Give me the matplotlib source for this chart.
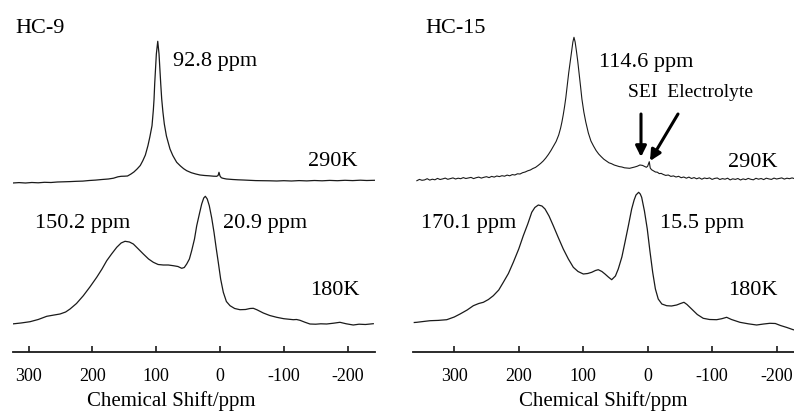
import numpy as np
import matplotlib.pyplot as plt

plt.rcParams['font.family'] = ['Liberation Serif', 'DejaVu Serif']
plt.rcParams['axes.unicode_minus'] = False

#HC-9 at 290K (chemical shift in ppm, intensity in arbitrary units)
hc9_290_ppm = [325, 315, 305, 295, 285, 275, 265, 255, 245, 235, 225, 215, 205, 195, 185, 175, 167, 160, 155,
               150, 145, 140, 135, 130, 125, 121, 117, 113, 110, 106.6, 104.5, 103.4, 102.4, 99.8, 97.6, 95.6,
               92.9, 91.4, 89.5, 87.3, 84, 81, 78.4, 74, 70, 67.9, 62, 57, 52.2, 45, 38, 31.3, 24, 17, 10, 5.2,
               3, 1.6, 0, -2, -4.7, -10, -20, -28, -36, -46, -56, -66, -78, -89, -100, -112, -124, -136, -148,
               -160, -172, -184, -196, -208, -220, -230, -242]
hc9_290_int = [-1.0, -0.6, -1.0, -0.5, -0.8, -0.3, -0.5, 0.0, 0.2, 0.4, 0.7, 0.9, 1.5, 1.9, 2.5, 3.0, 3.8, 5.2, 5.7,
               5.8, 6.0, 7.8, 10, 13, 16.5, 21.3, 27, 36.3, 45, 56.3, 72, 83, 98, 128, 140.7, 128,
               98, 83, 70, 58, 46, 39, 33, 26.5, 22, 19.7, 16, 13.3, 11.3, 9.3, 8, 7, 6.5, 6.2, 5.8, 5.7,
               6.5, 9.7, 6, 4.3, 3.7, 3, 2.5, 2.2, 2.0, 1.7, 1.4, 1.3, 1.2, 1.0, 1.3, 1.0, 1.4, 1.1, 1.5,
               1.2, 1.6, 1.3, 1.7, 1.4, 1.8, 1.5, 1.7]

#HC-9 at 180K
hc9_180_ppm = [326.5, 312, 297.8, 285, 271.6, 260, 250.8, 242, 235.1, 225, 214.3, 204, 193.3, 185, 177.6, 170,
               161.9, 155, 148.9, 142, 135.9, 128, 120.2, 112, 104.5, 97, 88.9, 81, 73.2, 66, 60, 56, 52.2, 48,
               44.4, 40, 36.5, 32, 28.7, 25.5, 23, 20, 16.8, 13, 9.4, 6, 2.7, -1, -5.2, -10, -15.7, -23, -31.3,
               -40, -47, -52.2, -58, -67.9, -78, -88.9, -100, -114.9, -120, -125.4, -133, -141, -150, -158,
               -167.2, -178, -188, -198, -208.9, -218, -228, -240.3]
hc9_180_int = [1, 2, 3.3, 5.5, 8.7, 10, 11, 13, 16, 21.5, 29.3, 38, 47.7, 56, 64.3, 71,
               77.7, 82, 83.7, 83, 81, 76, 71, 66, 62.7, 60.5, 60, 60, 59.3, 58.5, 56.7, 57.5, 61, 66,
               74.3, 86, 99.3, 112, 121, 127, 128.7, 126, 119.3, 107, 92.7, 77, 62.7, 46, 32.7, 23.5, 19.3, 16.5, 15.3,
               15.5, 16.5, 16.7, 15.2, 12, 9.5, 7.7, 6.3, 5.3, 5.5, 4.7, 2.8, 1, 0.8, 1.2,
               1, 1.8, 2.7, 1.2, 0, 0.8, 0.5, 1.3]

#HC-15 at 290K (noisy trace)
hc15_290_ppm = [358, 354, 350, 346, 342, 338, 334, 330, 326, 322, 318, 314, 310, 306, 302, 298, 294, 290, 286,
                282, 278, 274, 270, 266, 262, 258, 254, 250, 246, 242, 238, 234, 230, 226, 222, 218, 214, 210,
                206, 202, 198, 194, 190, 186, 182, 178, 174, 170, 166, 162, 158, 154, 150, 146, 142, 138, 135,
                133, 131, 129, 127, 125, 122.5, 120, 118, 116, 114.3, 112.5, 110.5, 108.5, 106, 104, 102, 99,
                96, 92, 88, 84, 80, 76, 72, 68, 64, 60, 56, 52, 48, 44, 40, 36, 32, 28, 24, 20, 16, 12, 8, 5,
                2, 0, -2.5, -4, -6, -9, -12, -15, -18, -21, -24, -28, -32, -36, -40, -44, -48, -52, -56, -60,
                -64, -68, -72, -76, -80, -84, -88, -92, -96, -100, -104, -108, -112, -116, -120, -124, -128,
                -132, -136, -140, -144, -148, -152, -156, -160, -164, -168, -172, -176, -180, -184, -188, -192,
                -196, -200, -204, -208, -212, -216, -220, -224, -227]
hc15_290_int = [-1.7, -0.4, -1.3, -0.9, 0.3, -1.1, -0.2, -0.8, 0.6, -0.5, 0.1, 0.9, -0.3, 0.4, 1.1, 0.0, 0.8, 0.3, 1.4,
                0.5, 1.0, 1.6, 0.4, 1.3, 1.9, 0.9, 1.7, 2.3, 1.4, 2.6, 1.9, 3.0, 2.4, 3.3, 2.8, 3.9, 3.2, 4.4,
                4.0, 5.2, 5.0, 6.3, 7.0, 8.2, 9.0, 10.5, 11.6, 13.5, 15.6, 18.0, 21, 24.5, 28.5, 33, 37.5, 44, 51,
                57, 64, 72, 81, 92, 106, 118, 128, 137, 141.7, 137, 128, 118, 104, 92, 80, 67,
                57, 46, 38, 33, 28.5, 25, 22.3, 19.8, 18.0, 16.2, 15.3, 14.0, 13.2, 12.4, 12.0, 11.2, 11.0, 10.7,
                11.3, 12.0, 12.8, 14.0, 13.6, 12.6,
                11.7, 12.8, 17.3, 11, 9.3, 8.2, 7.0, 6.8, 5.4, 5.6, 4.6, 3.6, 4.0, 2.6, 3.1, 2.0, 2.7, 1.3, 2.0, 0.8,
                1.9, 0.5, 1.4, 0.2, 1.2, -0.2, 1.0, 0.4, 1.1, -0.4, 0.6, 1.0, -0.5, 0.4, -0.2, 0.8, -0.9,
                0.2, -0.4, 0.5, -1.0, 0.1, -0.6, 0.6, -0.3, -0.8, 0.7, -0.2, 0.5, -0.6, 0.8, 0.1, -0.4,
                0.9, 0.0, 0.6, 1.1, -0.1, 0.8, 0.3, 1.1, 0.5]

#HC-15 at 180K
hc15_180_ppm = [362, 358.1, 348, 337.5, 325, 311.6, 300, 291, 280, 270.4, 262, 254.9, 247, 239.4, 231, 223.9, 216,
                208.4, 200, 192.9, 186, 179.8, 175, 169.6, 164, 159.2, 153, 146.4, 139, 130.9, 123, 115.3, 108,
                99.8, 93, 86.8, 81, 76.6, 71, 66.2, 61, 55.8, 50, 45.6, 40, 35.2, 30, 24.8, 21, 18.1, 14, 11.5,
                9.3, 5, 0.6, -3.5, -7.8, -12, -16.4, -22, -29.5, -37, -45, -51, -56.3, -61, -68.2, -77, -86.2,
                -96, -107, -115, -122.5, -130, -143.1, -156, -169, -180, -189.6, -198, -206, -216, -225.7, -228]
hc15_180_int = [2.5, 2.7, 3.5, 4.3, 4.6, 5.3, 8, 11, 15, 19.3, 21.5, 22.7, 25.5, 29.3, 35, 42.7, 51.5,
                62.7, 76, 89.3, 101, 112.7, 117.5, 120, 119, 116, 109, 99.3, 88, 76, 66, 57.7, 53.5,
                51, 51.5, 52.7, 54.5, 55.3, 53.5, 51, 48, 45.3, 49, 56, 68, 82.7, 99, 116, 125, 130, 132.7, 131,
                127.7, 114, 96, 74, 52.7, 36, 26, 21, 19.3, 19, 20, 21.5, 22.7, 20.5, 16, 10.5, 6.7,
                5.5, 5.3, 6.3, 7.7, 5.5, 2.7, 1.2, 0, 1, 1.7, 1.5, -0.5, -2.5, -4.7, -5]

ticks = [300, 200, 100, 0, -100, -200]

W, H = 794, 414
fig = plt.figure(figsize=(W / 100, H / 100), dpi=100)

#axes boxes in pixels: left, right, axis line at y=353 from top
ax1 = fig.add_axes([12.7 / W, (H - 353) / H, 362.3 / W, 353 / H])
ax2 = fig.add_axes([413 / W, (H - 353) / H, 381 / W, 353 / H])

lc = '#1a1a1a'
ax1.plot(hc9_290_ppm, np.array(hc9_290_int) + 170, color=lc, lw=0.9)
ax1.plot(hc9_180_ppm, np.array(hc9_180_int) + 27, color=lc, lw=0.9)
ax2.plot(hc15_290_ppm, np.array(hc15_290_int) + 173, color=lc, lw=0.8)
ax2.plot(hc15_180_ppm, np.array(hc15_180_int) + 27, color=lc, lw=0.9)

ax1.set_xlim(325, -243)
ax2.set_xlim(364, -227)
for ax in (ax1, ax2):
    ax.set_ylim(0, 353)
    ax.set_facecolor('none')
    for s in ['left', 'right', 'top']:
        ax.spines[s].set_visible(False)
    ax.spines['bottom'].set_linewidth(1.3)
    ax.spines['bottom'].set_color(lc)
    ax.set_yticks([])
    ax.set_xticks(ticks)
    ax.set_xticklabels([str(t) for t in ticks])
    ax.tick_params(axis='x', direction='in', length=4, width=1.2, color=lc, pad=11, labelsize=13)
ax1.set_xlabel('Chemical Shift/ppm', fontsize=15, labelpad=4, x=0.437)
ax2.set_xlabel('Chemical Shift/ppm', fontsize=15, labelpad=4)

#labels placed in figure pixels (x from left, baseline y from top)
def label(x, y, s, size=16):
    fig.text(x / W, 1 - y / H, s, fontsize=size, ha='left', va='baseline')

label(15, 33, 'HC-9')
label(173, 66, '92.8 ppm')
label(308, 166, '290K')
label(35, 228, '150.2 ppm')
label(223, 228, '20.9 ppm')
label(310, 295, '180K')

label(425, 33, 'HC-15')
label(599, 67, '114.6 ppm')
label(628, 97, 'SEI  Electrolyte', size=14)
label(728, 167, '290K')
label(421, 228, '170.1 ppm')
label(660, 228, '15.5 ppm')
label(728, 295, '180K')

#arrows for SEI and electrolyte
arrow = dict(arrowstyle='-|>', lw=2.2, color='k', mutation_scale=16, shrinkA=0, shrinkB=0)
ax2.annotate('', xy=(641, H - 158), xytext=(641, H - 115), xycoords='figure pixels',
             textcoords='figure pixels', arrowprops=arrow)
ax2.annotate('', xy=(650, H - 162), xytext=(678, H - 115), xycoords='figure pixels',
             textcoords='figure pixels', arrowprops=arrow)

fig.savefig('out.png', dpi=100)
